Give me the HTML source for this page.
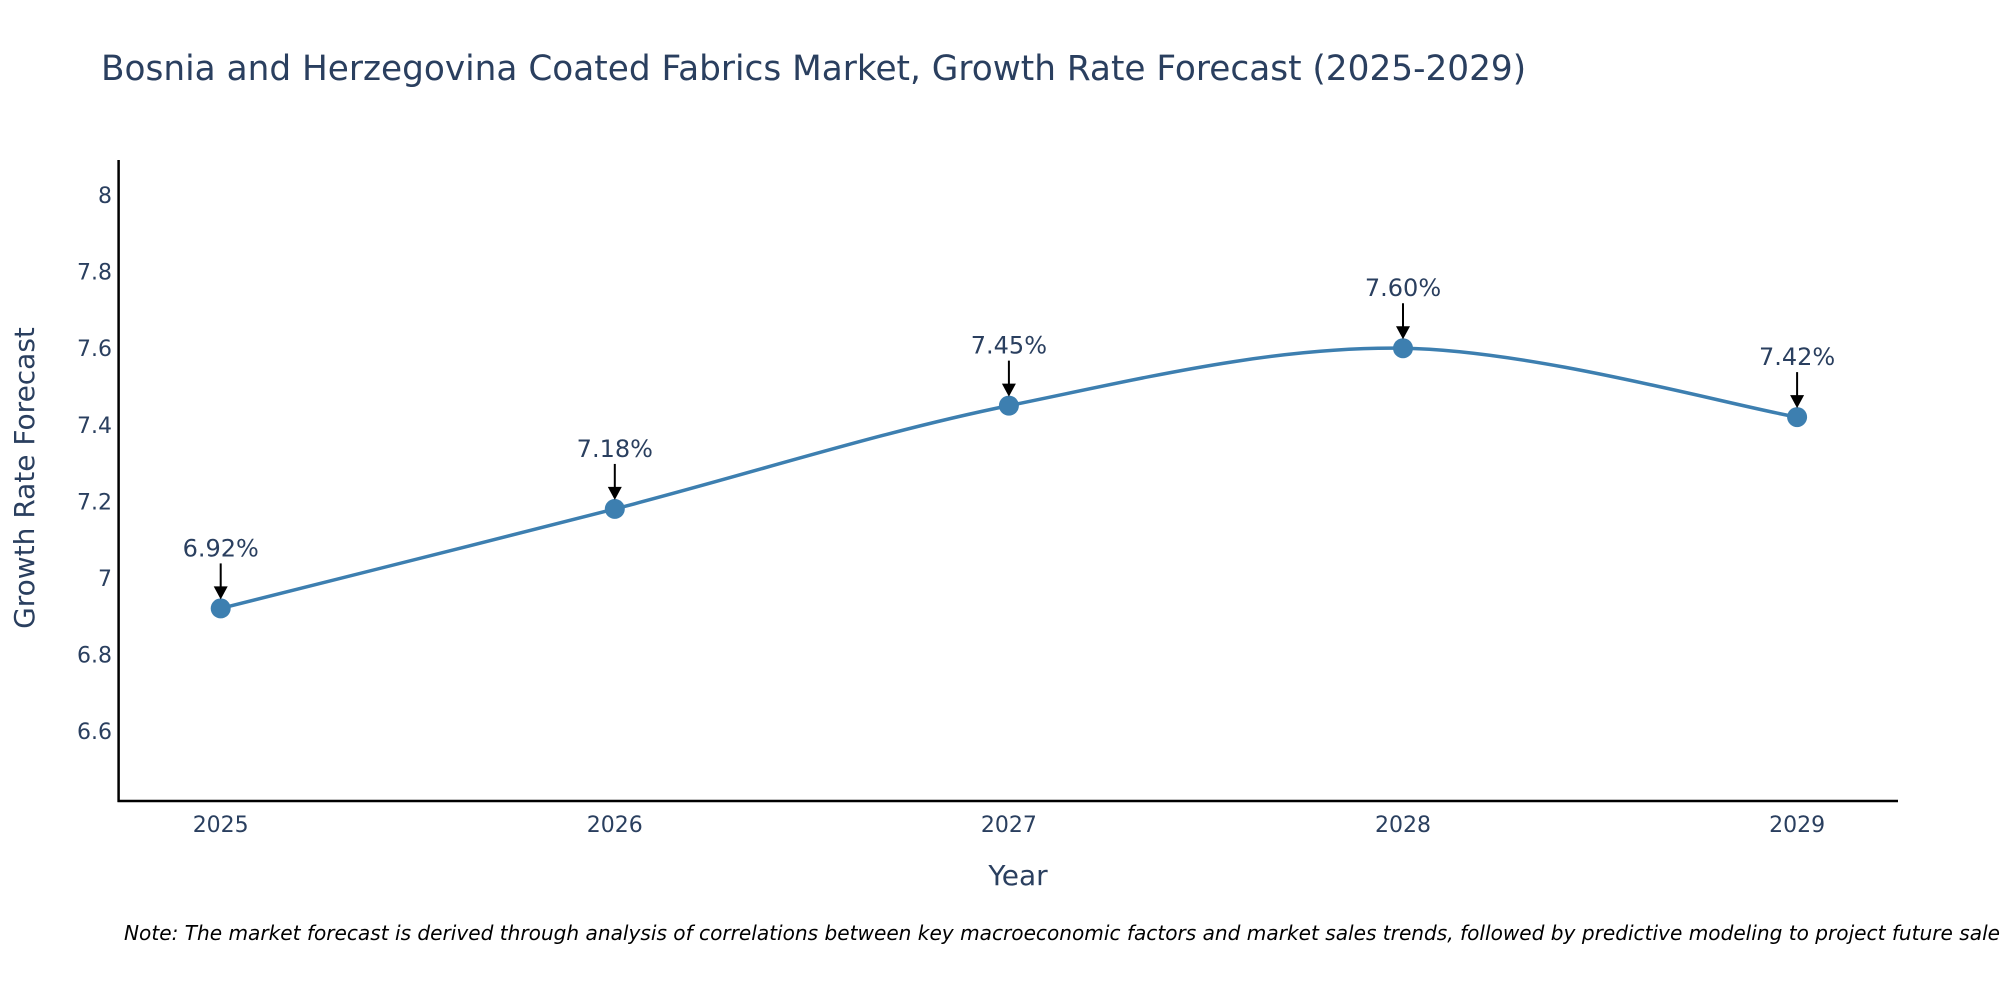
<!DOCTYPE html>
<html><head><meta charset="utf-8"><style>body{margin:0;background:#fff}svg{display:block;font-family:"DejaVu Sans","Liberation Sans",sans-serif}</style></head>
<body>
<svg id="chart" width="2000" height="1000">
<text x="101" y="80" font-size="34.3" fill="#2a3f5f">Bosnia and Herzegovina Coated Fabrics Market, Growth Rate Forecast (2025-2029)</text>
<g id="yticks"></g><g id="xticks"></g>
<line x1="118.6" y1="160" x2="118.6" y2="802" stroke="#000" stroke-width="2.5"/>
<line x1="117.5" y1="801" x2="1898" y2="801" stroke="#000" stroke-width="2.5"/>
<text transform="translate(34,478) rotate(-90)" text-anchor="middle" font-size="28" fill="#2a3f5f">Growth Rate Forecast</text>
<text x="1018" y="885" text-anchor="middle" font-size="28" fill="#2a3f5f">Year</text>
<g id="series"></g>
<text x="124" y="940" font-size="20.1" font-style="italic" fill="#000">Note: The market forecast is derived through analysis of correlations between key macroeconomic factors and market sales trends, followed by predictive modeling to project future sales.</text>
</svg>
<script>
const years = [2025, 2026, 2027, 2028, 2029];
const values = [6.92, 7.18, 7.45, 7.60, 7.42];
const labels = ["6.92%", "7.18%", "7.45%", "7.60%", "7.42%"];
const yTicks = [6.6, 6.8, 7, 7.2, 7.4, 7.6, 7.8, 8];
const yTickLabels = ["6.6", "6.8", "7", "7.2", "7.4", "7.6", "7.8", "8"];

const NS = "http://www.w3.org/2000/svg";
const xS = v => 220.7 + (v - 2025) * 394.1;
const yS = v => 577.8 - (v - 7) * 382.6;
function mk(tag, attrs, parent, txt) {
  const e = document.createElementNS(NS, tag);
  for (const k in attrs) e.setAttribute(k, attrs[k]);
  if (txt !== undefined) e.textContent = txt;
  parent.appendChild(e); return e;
}
const yg = document.getElementById('yticks');
yTicks.forEach((t, i) => {
  const e = mk('text', {x: 112, y: yS(t) + 8, 'text-anchor': 'end', 'font-size': 22, fill: '#2a3f5f'}, yg, yTickLabels[i]);
  
  
});
const xg = document.getElementById('xticks');
years.forEach(y => {
  const e = mk('text', {x: xS(y), y: 832, 'text-anchor': 'middle', 'font-size': 22, fill: '#2a3f5f'}, xg, String(y));
  
  
});
const sg = document.getElementById('series');
const pts = years.map((y, i) => [xS(y), yS(values[i])]);
let d = `M${pts[0][0]},${pts[0][1]}`;
const s = 1/6;
for (let i = 0; i < pts.length - 1; i++) {
  const p0 = pts[Math.max(0, i - 1)], p1 = pts[i], p2 = pts[i + 1], p3 = pts[Math.min(pts.length - 1, i + 2)];
  const c1 = [p1[0] + (p2[0] - p0[0]) * s, p1[1] + (p2[1] - p0[1]) * s];
  const c2 = [p2[0] - (p3[0] - p1[0]) * s, p2[1] - (p3[1] - p1[1]) * s];
  d += ` C${c1[0]},${c1[1]} ${c2[0]},${c2[1]} ${p2[0]},${p2[1]}`;
}
const line = mk('path', {d: d, fill: 'none', stroke: '#3d7fb0', 'stroke-width': 3.5}, sg);


pts.forEach((p, i) => {
  const c = mk('circle', {cx: p[0], cy: p[1], r: 10, fill: '#3d7fb0'}, sg);
  
  
  const a = mk('line', {x1: p[0], y1: p[1] - 45, x2: p[0], y2: p[1] - 20, stroke: '#000', 'stroke-width': 2}, sg);
  
  
  const h = mk('path', {d: `M${p[0]-7},${p[1]-22} L${p[0]+7},${p[1]-22} L${p[0]},${p[1]-9} Z`, fill: '#000'}, sg);
  
  
  const t = mk('text', {x: p[0], y: p[1] - 52, 'text-anchor': 'middle', 'font-size': 24, fill: '#2a3f5f'}, sg, labels[i]);
  
  
});
</script>
</body></html>
